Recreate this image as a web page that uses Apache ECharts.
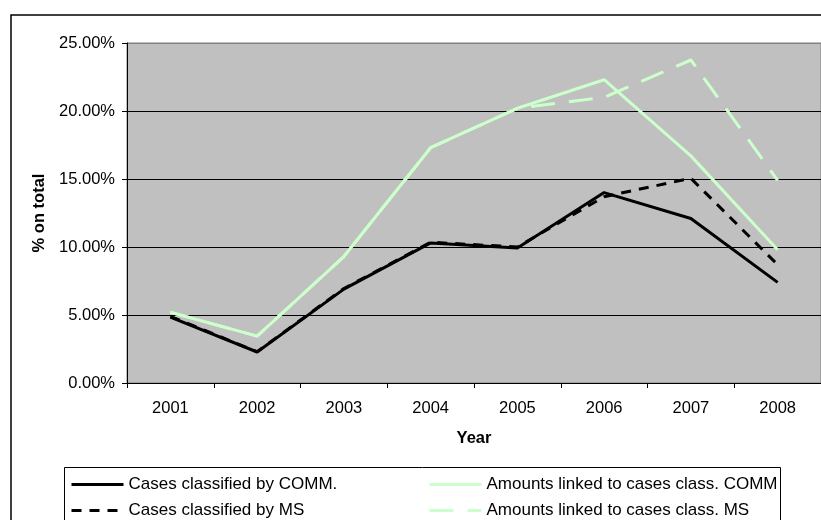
<!DOCTYPE html>
<html>
<head>
<meta charset="utf-8">
<script src="https://cdn.jsdelivr.net/npm/echarts@6/dist/echarts.min.js"></script>
<style>html,body{margin:0;padding:0;background:#fff}#c{width:821px;height:520px}</style>
</head>
<body>
<div id="c"></div>
<script>
var years = ['2001','2002','2003','2004','2005','2006','2007','2008'];
var casesComm = [4.85, 2.28, 6.9, 10.3, 9.93, 14.0, 12.1, 7.4];
var casesMs = [4.9, 2.3, 6.95, 10.35, 10.0, 13.7, 15.05, 8.7];
var amountsComm = [5.2, 3.45, 9.3, 17.3, 20.2, 22.3, 16.7, 9.8];
var amountsMs = [5.2, 3.45, 9.3, 17.3, 20.2, 21.0, 23.75, 14.9];
var seriesNames = ['Cases classified by COMM.', 'Cases classified by MS', 'Amounts linked to cases class. COMM', 'Amounts linked to cases class. MS'];

var green = '#CCFFCC';
var font = 'Liberation Sans, Arial, sans-serif';
function leg(name, left, top) {
  return {left: left, top: top, orient: 'horizontal', itemWidth: 52, itemHeight: 12, itemGap: 0, padding: 0,
    data: [name], selectedMode: false,
    lineStyle: {width: 3},
    itemStyle: {color: 'transparent', borderColor: 'transparent', borderWidth: 0},
    textStyle: {fontFamily: font, fontSize: 17, color: '#000'}};
}
var chart = echarts.init(document.getElementById('c'), null, {renderer: 'canvas'});
chart.setOption({
  animation: false,
  backgroundColor: '#fff',
  textStyle: {fontFamily: font},
  graphic: [
    {type: 'rect', shape: {x: 11, y: 15, width: 840, height: 540}, style: {fill: null, stroke: '#000', lineWidth: 1.5}, z: 100},
    {type: 'rect', shape: {x: 64.5, y: 467.5, width: 716, height: 70}, style: {fill: null, stroke: '#000', lineWidth: 1}, z: 100}
  ],
  grid: {left: 127, top: 43, right: -3, bottom: 137, show: true, backgroundColor: '#C0C0C0', borderColor: '#808080', borderWidth: 1},
  legend: [
    leg(seriesNames[0], 70, 476),
    leg(seriesNames[1], 70, 502),
    leg(seriesNames[2], 428, 476),
    leg(seriesNames[3], 428, 502)
  ],
  xAxis: {
    type: 'category', data: years, boundaryGap: true,
    name: 'Year', nameLocation: 'middle', nameGap: 47,
    nameTextStyle: {fontFamily: font, fontSize: 16.5, fontWeight: 'bold', color: '#000'},
    axisLine: {lineStyle: {color: '#000', width: 1}},
    axisTick: {show: true, length: 5, lineStyle: {color: '#000'}},
    axisLabel: {fontFamily: font, fontSize: 16.5, color: '#000', margin: 17},
    splitLine: {show: false}
  },
  yAxis: {
    type: 'value', min: 0, max: 25, interval: 5,
    name: '% on total', nameLocation: 'middle', nameGap: 79, nameRotate: 90,
    nameTextStyle: {fontFamily: font, fontSize: 16.5, fontWeight: 'bold', color: '#000'},
    axisLine: {show: true, lineStyle: {color: '#000', width: 1}},
    axisTick: {show: true, length: 5, lineStyle: {color: '#000'}},
    axisLabel: {fontFamily: font, fontSize: 16.5, color: '#000', margin: 12, formatter: function(v){return v.toFixed(2) + '%';}},
    splitLine: {show: true, lineStyle: {color: ['#000','#000','#000','#000','#000','#808080'], width: 1}}
  },
  series: [
    {name: seriesNames[2], type: 'line', data: amountsComm, symbol: 'none', z: 2,
     lineStyle: {color: green, width: 3}, itemStyle: {color: green}},
    {name: seriesNames[3], type: 'line', data: amountsMs, symbol: 'none', z: 2,
     lineStyle: {color: green, width: 3, type: [24, 14]}, itemStyle: {color: green}},
    {name: seriesNames[1], type: 'line', data: casesMs, symbol: 'none', z: 3,
     lineStyle: {color: '#000', width: 3, type: [10, 8]}, itemStyle: {color: '#000'}},
    {name: seriesNames[0], type: 'line', data: casesComm, symbol: 'none', z: 4,
     lineStyle: {color: '#000', width: 3}, itemStyle: {color: '#000'}}
  ]
});
</script>
</body>
</html>
